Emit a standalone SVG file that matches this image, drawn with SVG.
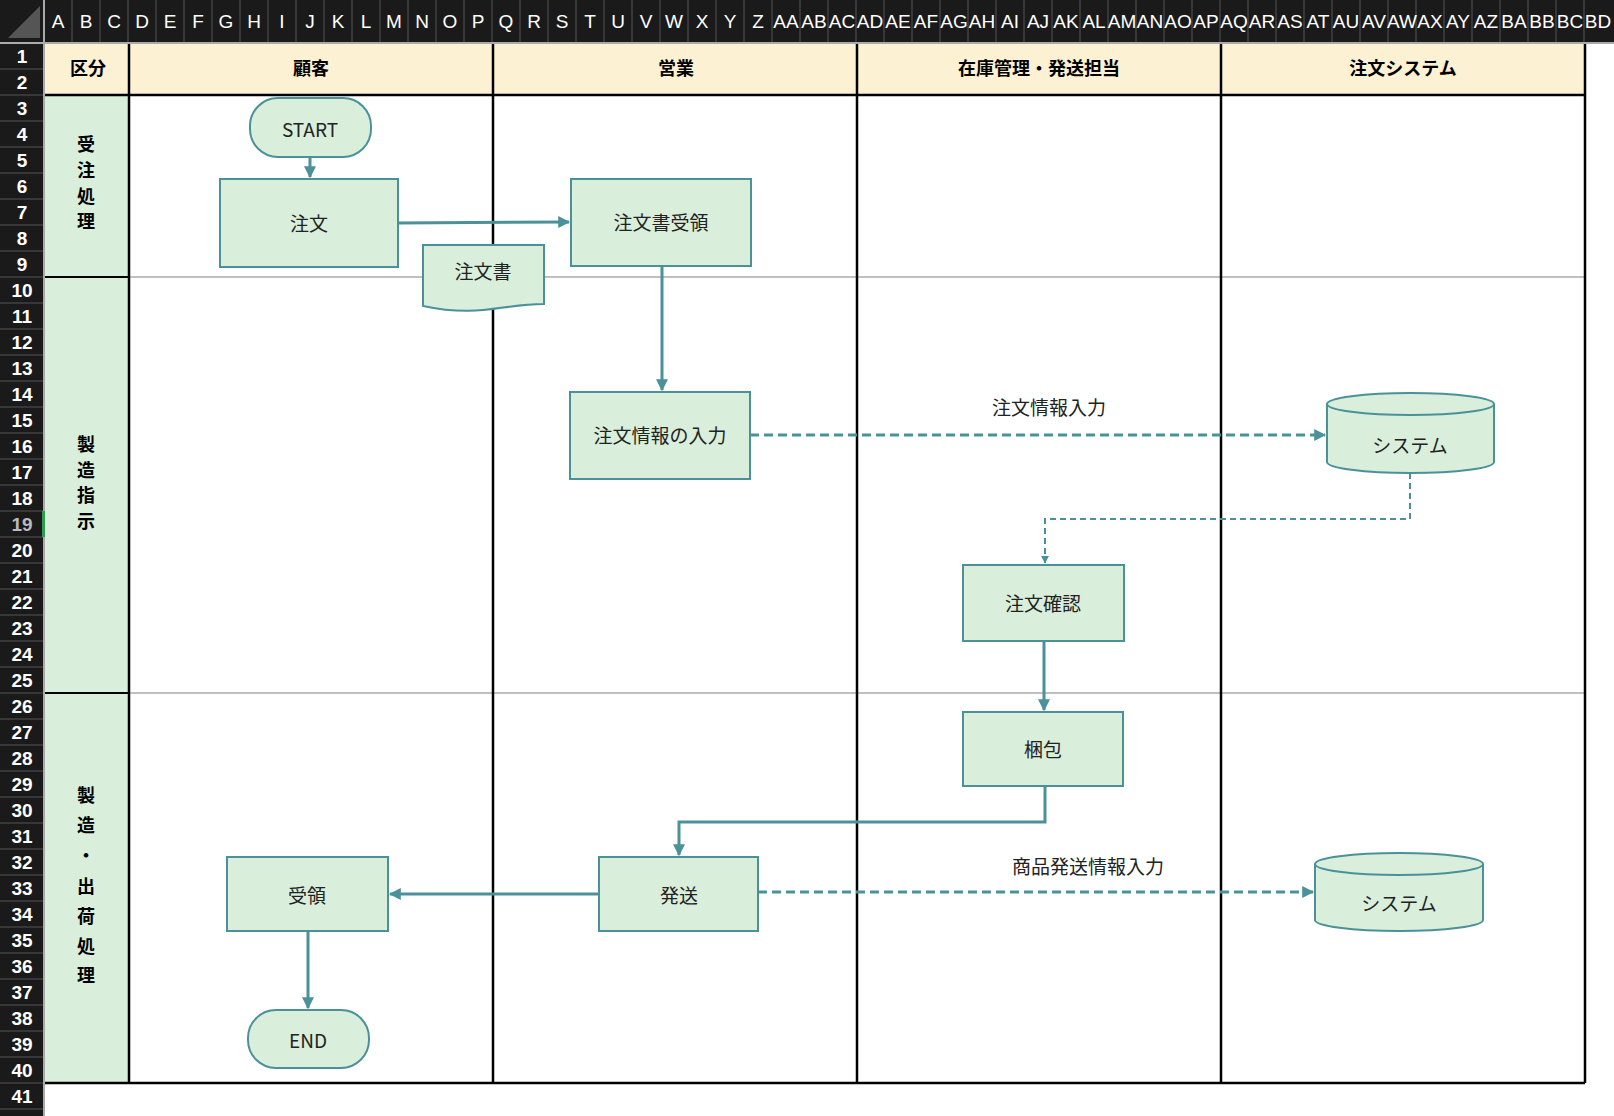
<svg xmlns="http://www.w3.org/2000/svg" width="1614" height="1116" viewBox="0 0 1614 1116">
<style>
.hd{font-family:"Liberation Sans",Arial,sans-serif;font-size:19px;fill:#fff;text-anchor:middle}
.rn{font-family:"Liberation Sans",Arial,sans-serif;font-size:19px;fill:#fff;text-anchor:middle;font-weight:bold}
.th{font-family:"Noto Sans CJK JP",sans-serif;font-size:18px;font-weight:bold;fill:#000;text-anchor:middle}
.lt{font-family:"Noto Sans CJK JP",sans-serif;font-size:18px;font-weight:bold;fill:#000;text-anchor:middle}
.nd{fill:#d9efdc;stroke:#4a9199;stroke-width:2}
.nt{font-family:"Noto Sans CJK JP",sans-serif;font-size:19px;fill:#222;text-anchor:middle;dominant-baseline:central}
.cn{fill:none;stroke:#4a9199;stroke-width:3}
.ds{fill:none;stroke:#4a9199;stroke-width:3;stroke-dasharray:9 5}
.ds2{fill:none;stroke:#4a9199;stroke-width:2;stroke-dasharray:6 4}
.lb{font-family:"Noto Sans CJK JP",sans-serif;font-size:19px;fill:#222;text-anchor:middle}
</style>
<defs>
<marker id="ar" viewBox="0 0 10 10" refX="9" refY="5" markerWidth="4" markerHeight="4" orient="auto"><path d="M0,0L10,5L0,10z" fill="#4a9199"/></marker>
</defs>
<rect width="1614" height="1116" fill="#fff"/>
<g id="sheet-headers">
<rect x="0" y="0" width="1614" height="43" fill="#1a1a1a"/>
<rect x="0" y="43" width="44" height="1073" fill="#1a1a1a"/>
<path d="M40,38L40,6L8,38z" fill="#555"/>
<g stroke="#555" stroke-width="1">
<path d="M72,0V43M100,0V43M128,0V43M156,0V43M184,0V43M212,0V43M240,0V43M268,0V43M296,0V43M324,0V43M352,0V43M380,0V43M408,0V43M436,0V43M464,0V43M492,0V43M520,0V43M548,0V43M576,0V43M604,0V43M632,0V43M660,0V43M688,0V43M716,0V43M744,0V43M772,0V43M800,0V43M828,0V43M856,0V43M884,0V43M912,0V43M940,0V43M968,0V43M996,0V43M1024,0V43M1052,0V43M1080,0V43M1108,0V43M1136,0V43M1164,0V43M1192,0V43M1220,0V43M1248,0V43M1276,0V43M1304,0V43M1332,0V43M1360,0V43M1388,0V43M1416,0V43M1444,0V43M1472,0V43M1500,0V43M1528,0V43M1556,0V43M1584,0V43"/>
<path d="M0,69H44M0,95H44M0,121H44M0,147H44M0,173H44M0,199H44M0,225H44M0,251H44M0,277H44M0,303H44M0,329H44M0,355H44M0,381H44M0,407H44M0,433H44M0,459H44M0,485H44M0,511H44M0,537H44M0,563H44M0,589H44M0,615H44M0,641H44M0,667H44M0,693H44M0,719H44M0,745H44M0,771H44M0,797H44M0,823H44M0,849H44M0,875H44M0,901H44M0,927H44M0,953H44M0,979H44M0,1005H44M0,1031H44M0,1057H44M0,1083H44M0,1109H44"/>
</g>
<path d="M0,43H1614M44,0V1116" stroke="#aaa" stroke-width="2"/>
<rect x="42" y="511" width="3" height="26" fill="#2e9c4e"/>
<g class="hd">
<text x="58" y="28">A</text><text x="86" y="28">B</text><text x="114" y="28">C</text><text x="142" y="28">D</text><text x="170" y="28">E</text><text x="198" y="28">F</text><text x="226" y="28">G</text><text x="254" y="28">H</text><text x="282" y="28">I</text><text x="310" y="28">J</text><text x="338" y="28">K</text><text x="366" y="28">L</text><text x="394" y="28">M</text><text x="422" y="28">N</text><text x="450" y="28">O</text><text x="478" y="28">P</text><text x="506" y="28">Q</text><text x="534" y="28">R</text><text x="562" y="28">S</text><text x="590" y="28">T</text><text x="618" y="28">U</text><text x="646" y="28">V</text><text x="674" y="28">W</text><text x="702" y="28">X</text><text x="730" y="28">Y</text><text x="758" y="28">Z</text>
<text x="786" y="28">AA</text><text x="814" y="28">AB</text><text x="842" y="28">AC</text><text x="870" y="28">AD</text><text x="898" y="28">AE</text><text x="926" y="28">AF</text><text x="954" y="28">AG</text><text x="982" y="28">AH</text><text x="1010" y="28">AI</text><text x="1038" y="28">AJ</text><text x="1066" y="28">AK</text><text x="1094" y="28">AL</text><text x="1122" y="28">AM</text><text x="1150" y="28">AN</text><text x="1178" y="28">AO</text><text x="1206" y="28">AP</text><text x="1234" y="28">AQ</text><text x="1262" y="28">AR</text><text x="1290" y="28">AS</text><text x="1318" y="28">AT</text><text x="1346" y="28">AU</text><text x="1374" y="28">AV</text><text x="1402" y="28">AW</text><text x="1430" y="28">AX</text><text x="1458" y="28">AY</text><text x="1486" y="28">AZ</text><text x="1514" y="28">BA</text><text x="1542" y="28">BB</text><text x="1570" y="28">BC</text><text x="1598" y="28">BD</text>
</g>
<g class="rn">
<text x="22" y="63">1</text><text x="22" y="89">2</text><text x="22" y="115">3</text><text x="22" y="141">4</text><text x="22" y="167">5</text><text x="22" y="193">6</text><text x="22" y="219">7</text><text x="22" y="245">8</text><text x="22" y="271">9</text><text x="22" y="297">10</text><text x="22" y="323">11</text><text x="22" y="349">12</text><text x="22" y="375">13</text><text x="22" y="401">14</text><text x="22" y="427">15</text><text x="22" y="453">16</text><text x="22" y="479">17</text><text x="22" y="505">18</text><text x="22" y="531" fill="#bbb">19</text><text x="22" y="557">20</text><text x="22" y="583">21</text><text x="22" y="609">22</text><text x="22" y="635">23</text><text x="22" y="661">24</text><text x="22" y="687">25</text><text x="22" y="713">26</text><text x="22" y="739">27</text><text x="22" y="765">28</text><text x="22" y="791">29</text><text x="22" y="817">30</text><text x="22" y="843">31</text><text x="22" y="869">32</text><text x="22" y="895">33</text><text x="22" y="921">34</text><text x="22" y="947">35</text><text x="22" y="973">36</text><text x="22" y="999">37</text><text x="22" y="1025">38</text><text x="22" y="1051">39</text><text x="22" y="1077">40</text><text x="22" y="1103">41</text>
</g>
</g>
<g id="table">
<rect x="45" y="44" width="1540" height="51" fill="#fcf1d2"/>
<rect x="45" y="95" width="84" height="988" fill="#d9efdc"/>
<path d="M129,277H1585M129,693H1585" stroke="#aaa" stroke-width="1.5"/>
<path d="M45,277H129M45,693H129" stroke="#000" stroke-width="2"/>
<path d="M45,95H1585M129,44V1083M493,44V1083M857,44V1083M1221,44V1083M1585,44V1083M45,1083H1585" stroke="#000" stroke-width="2.5" fill="none"/>
<g class="th"><text x="88" y="75">区分</text><text x="311" y="75">顧客</text><text x="676" y="75">営業</text><text x="1039" y="75">在庫管理・発送担当</text><text x="1403" y="75">注文システム</text></g>
<g class="lt">
<text x="86" y="151">受</text><text x="86" y="177">注</text><text x="86" y="203">処</text><text x="86" y="228">理</text>
<text x="86" y="451">製</text><text x="86" y="477">造</text><text x="86" y="502">指</text><text x="86" y="528">示</text>
<text x="86" y="802">製</text><text x="86" y="832">造</text><text x="86" y="862">・</text><text x="86" y="893">出</text><text x="86" y="923">荷</text><text x="86" y="953">処</text><text x="86" y="982">理</text>
</g>
</g>
<g id="connectors">
<path class="cn" d="M310,157V177" marker-end="url(#ar)"/>
<path class="cn" d="M398,223L569,222" marker-end="url(#ar)"/>
<path class="cn" d="M662,266V390" marker-end="url(#ar)"/>
<path class="ds" d="M750,435H1325" marker-end="url(#ar)"/>
<path class="ds2" d="M1410,473V519H1045V563" marker-end="url(#ar)"/>
<path class="cn" d="M1044,641V710" marker-end="url(#ar)"/>
<path class="cn" d="M1045,786V822H679V855" marker-end="url(#ar)"/>
<path class="cn" d="M599,894H390" marker-end="url(#ar)"/>
<path class="cn" d="M308,931V1008" marker-end="url(#ar)"/>
<path class="ds" d="M758,892H1313" marker-end="url(#ar)"/>
<text class="lb" x="1049" y="415">注文情報入力</text>
<text class="lb" x="1088" y="874">商品発送情報入力</text>
</g>
<g id="start"><rect class="nd" x="250" y="98" width="121" height="59" rx="28"/><text class="nt" x="310" y="128" font-family="Liberation Sans,sans-serif">START</text></g>
<g id="order"><rect class="nd" x="220" y="179" width="178" height="88"/><text class="nt" x="309" y="222">注文</text></g>
<g id="doc"><path class="nd" d="M423,245H544V304C500,304 480,318 423,306Z"/><text class="nt" x="483" y="270">注文書</text></g>
<g id="receive-order"><rect class="nd" x="571" y="179" width="180" height="87"/><text class="nt" x="661" y="221">注文書受領</text></g>
<g id="input"><rect class="nd" x="570" y="392" width="180" height="87"/><text class="nt" x="660" y="434" font-size="15">注文情報の入力</text></g>
<g id="system1"><path class="nd" d="M1327,404V462A83,11 0 0 0 1494,462V404A83,11 0 0 0 1327,404A83,11 0 0 0 1494,404"/><text class="nt" x="1410" y="444">システム</text></g>
<g id="confirm"><rect class="nd" x="963" y="565" width="161" height="76"/><text class="nt" x="1043" y="602">注文確認</text></g>
<g id="pack"><rect class="nd" x="963" y="712" width="160" height="74"/><text class="nt" x="1043" y="748">梱包</text></g>
<g id="ship"><rect class="nd" x="599" y="857" width="159" height="74"/><text class="nt" x="679" y="894">発送</text></g>
<g id="receive"><rect class="nd" x="227" y="857" width="161" height="74"/><text class="nt" x="307" y="894">受領</text></g>
<g id="end"><rect class="nd" x="248" y="1010" width="121" height="58" rx="28"/><text class="nt" x="308" y="1039" font-family="Liberation Sans,sans-serif">END</text></g>
<g id="system2"><path class="nd" d="M1315,864V920A84,11 0 0 0 1483,920V864A84,11 0 0 0 1315,864A84,11 0 0 0 1483,864"/><text class="nt" x="1399" y="902">システム</text></g>
</svg>
